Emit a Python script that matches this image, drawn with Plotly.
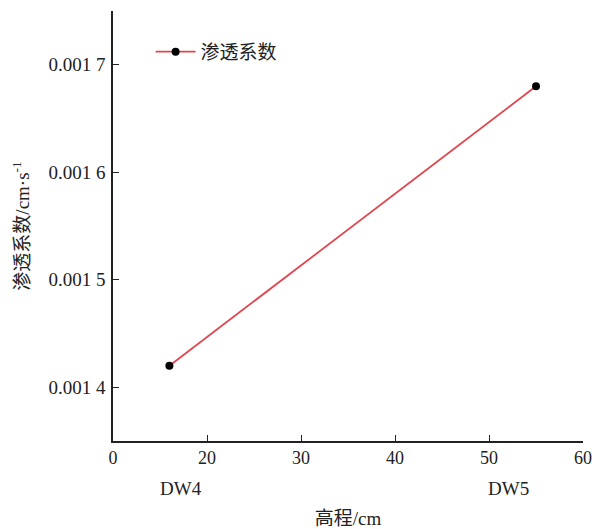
import plotly.graph_objects as go

elev = [16, 55]
perm = [0.00142, 0.00168]
site_labels = ["DW4", "DW5"]
site_label_x = [17.2, 52.1]
x_tickvals = [10, 20, 30, 40, 50, 60]
x_ticktext = ["0", "20", "30", "40", "50", "60"]
y_tickvals = [0.0014, 0.0015, 0.0016, 0.0017]
y_ticktext = ["0.001 4", "0.001 5", "0.001 6", "0.001 7"]

FONT = "Liberation Serif, Times New Roman, Noto Sans CJK SC, serif"

fig = go.Figure()
fig.add_trace(go.Scatter(
    x=elev, y=perm, mode="lines+markers", name="渗透系数",
    line=dict(color="#e0474f", width=1.8),
    marker=dict(color="black", size=8),
))

for lbl, lx in zip(site_labels, site_label_x):
    fig.add_annotation(x=lx, y=0, xref="x", yref="paper", text=lbl,
                       showarrow=False, yshift=-47, yanchor="middle",
                       font=dict(family=FONT, size=19, color="#222"))

fig.update_layout(
    width=596, height=529,
    margin=dict(l=113, r=13, t=11, b=88),
    paper_bgcolor="white", plot_bgcolor="white",
    font=dict(family=FONT, size=18, color="#222"),
    showlegend=True,
    legend=dict(x=0.08, y=0.905, xanchor="left", yanchor="middle",
                itemwidth=40,
                bgcolor="rgba(0,0,0,0)", font=dict(size=19, family=FONT)),
    xaxis=dict(range=[10, 60], tickvals=x_tickvals, ticktext=x_ticktext,
               showgrid=False, zeroline=False, showline=True, linecolor="#222",
               linewidth=1.5, ticks="inside", ticklen=6, tickcolor="#222",
               tickfont=dict(size=18), automargin=False,
               title=dict(text="高程/cm", standoff=44, font=dict(size=19))),
    yaxis=dict(range=[0.00135, 0.00175], tickvals=y_tickvals, ticktext=y_ticktext,
               showgrid=False, zeroline=False, showline=True, linecolor="#222",
               linewidth=1.5, ticks="inside", ticklen=6, tickcolor="#222",
               tickfont=dict(size=19), ticklabelstandoff=2, automargin=False,
               title=dict(text="渗透系数/cm·s<sup>-1</sup>", standoff=14,
                          font=dict(size=19))),
)

fig.write_html("out.html")
